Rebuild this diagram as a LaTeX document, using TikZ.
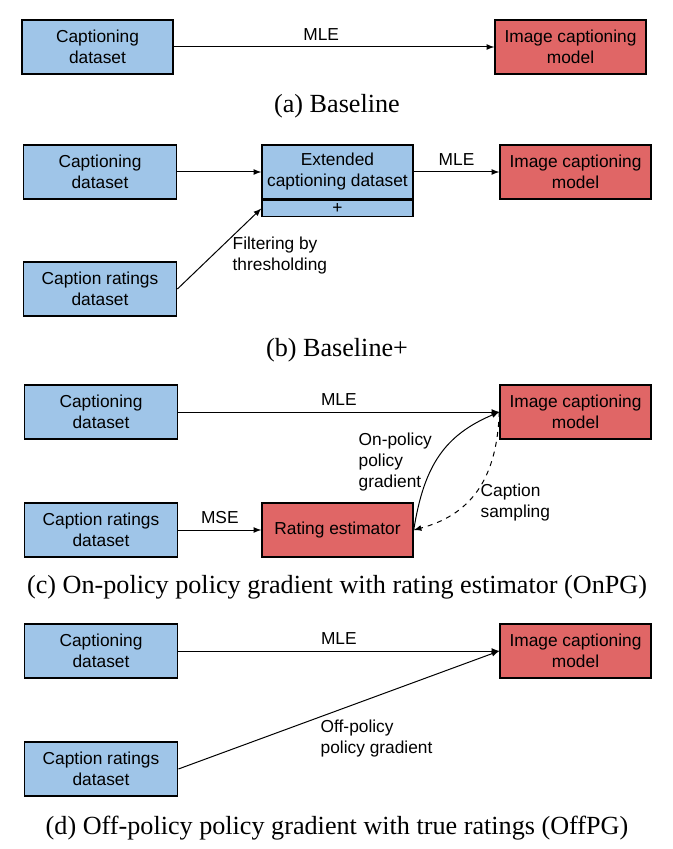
\documentclass[tikz,border=0pt]{standalone}
\usepackage{fontspec}
\setmainfont{Liberation Sans}
\newfontfamily\capfont{Liberation Serif}
\usepackage{tikz}
\definecolor{dsblue}{HTML}{9FC5E8}
\definecolor{mdlred}{HTML}{E06666}
\tikzset{
  databox/.style={draw, line width=0.9pt, fill=dsblue, minimum width=92pt, minimum height=32.4pt, align=center, inner sep=1pt},
  modelbox/.style={databox, fill=mdlred, minimum width=90.6pt},
  flow/.style={->, line width=0.6pt},
  lbl/.style={inner sep=2pt, align=left},
  subcap/.style={font=\capfont\fontsize{15.7}{18}\selectfont}
}

\begin{document}
\begin{tikzpicture}[x=0.6pt, y=-0.6pt, >=latex, font=\fontsize{10.4}{12.6}\selectfont]
      \useasboundingbox (0,0) rectangle (672,849);
      % (a)
      \node[databox, minimum width=90.6pt] (capA) at (97.5,47) {Captioning\\dataset};
      \node[modelbox] (modelA) at (570.5,47) {Image captioning\\model};
      \draw[flow] (capA) -- node[above, pos=0.46] (mleA) {MLE} (modelA);
      \node[subcap] (subA) at (337,106) {(a) Baseline};
      % (b)
      \node[databox] (capB) at (100,172) {Captioning\\dataset};
      \node[databox, minimum width=90.6pt] (extB) at (337.5,172) {Extended\\captioning dataset};
      \node[databox, minimum width=90.6pt, minimum height=9.6pt, anchor=north] (plusB) at (extB.south) {+};
      \node[modelbox] (modelB) at (575.5,172) {Image captioning\\model};
      \node[databox] (rateB) at (100,289) {Caption ratings\\dataset};
      \draw[flow] (capB) -- (extB);
      \draw[flow] (extB) -- node[above] (mleB) {MLE} (modelB);
      \draw[flow] (rateB.east) -- (plusB.west);
      \node[lbl, anchor=west] (filtB) at (229,256) {Filtering by\\thresholding};
      \node[subcap] (subB) at (337,350) {(b) Baseline+};
      % (c)
      \node[databox] (capC) at (101,412) {Captioning\\dataset};
      \node[modelbox] (modelC) at (575.5,412) {Image captioning\\model};
      \node[databox] (rateC) at (101,530) {Caption ratings\\dataset};
      \node[modelbox] (estC) at (337.5,530) {Rating estimator};
      \draw[flow] (capC) -- node[above] (mleC) {MLE} (modelC);
      \draw[flow] (rateC) -- node[above] (mseC) {MSE} (estC);
      \draw[flow] (estC.east) .. controls (424,465) and (445,435) .. (modelC.west);
      \draw[flow, dashed] (modelC.west) .. controls (497,480) and (470,515) .. (estC.east);
      \node[lbl, anchor=west] (onpgC) at (355,462) {On-policy\\policy\\gradient};
      \node[lbl, anchor=west] (sampC) at (477,503) {Caption\\sampling};
      \node[subcap] (subC) at (337,587) {(c) On-policy policy gradient with rating estimator (OnPG)};
      % (d)
      \node[databox] (capD) at (101,651) {Captioning\\dataset};
      \node[modelbox] (modelD) at (575.5,651) {Image captioning\\model};
      \node[databox] (rateD) at (101,769) {Caption ratings\\dataset};
      \draw[flow] (capD) -- node[above] (mleD) {MLE} (modelD);
      \draw[flow] (rateD.east) -- (modelD.west);
      \node[lbl, anchor=west] (offpgD) at (317,739) {Off-policy\\policy gradient};
      \node[subcap] (subD) at (337,828) {(d) Off-policy policy gradient with true ratings (OffPG)};
    \end{tikzpicture}
\end{document}
